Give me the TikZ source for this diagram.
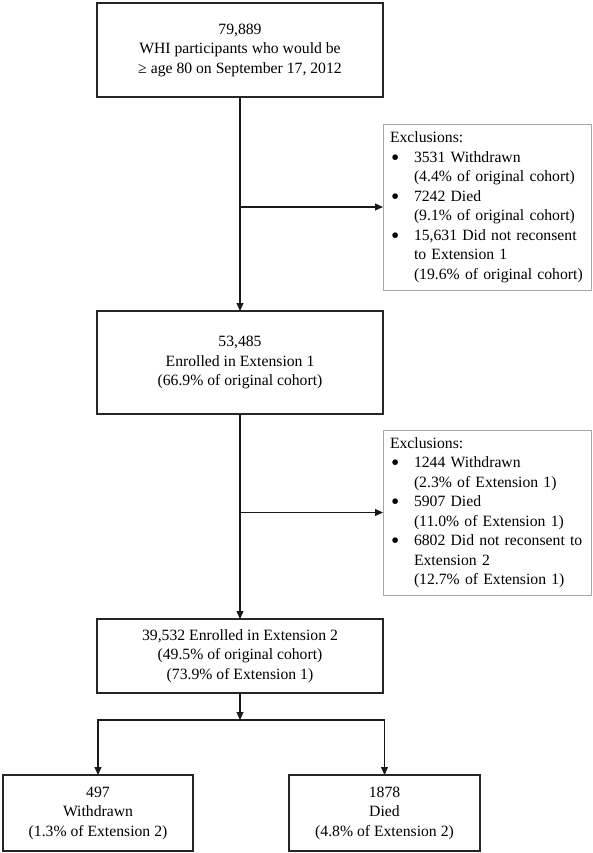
\documentclass[tikz,border=0pt]{standalone}
\usepackage{fontspec}
\setmainfont{Liberation Serif}
\usetikzlibrary{arrows.meta}
\newcommand{\bigdot}{\hspace{1pt}\raisebox{-3pt}{\scalebox{1.5}{\textbullet}}}
\begin{document}
\begin{tikzpicture}[x=1pt,y=-1pt,
  txt/.style={font=\fontsize{15.7}{19.5}\selectfont},
  mainbox/.style={txt, draw=black!85, line width=1.2pt, inner sep=0pt, outer sep=0pt,
    minimum width=286pt, align=center},
  botbox/.style={mainbox, minimum width=190pt, minimum height=76pt},
  exbox/.style={txt, draw=black!35, line width=0.9pt, inner xsep=7pt, inner ysep=0pt,
    outer sep=0pt, text width=194pt, align=left, minimum width=208pt},
  arr/.style={-{Triangle[length=8pt,width=7pt]}, line width=1.1pt, draw=black!90}]
\useasboundingbox (0,0) rectangle (592,853);

\node[mainbox, minimum height=94pt] (b1) at (240,50)
  {79,889\\WHI participants who would be\\≥ age 80 on September 17, 2012};
\node[mainbox, minimum height=103pt] (b2) at (240,362.5)
  {53,485\\Enrolled in Extension 1\\(66.9\% of original cohort)};
\node[mainbox, minimum height=74pt] (b3) at (240,656)
  {39,532 Enrolled in Extension 2\\(49.5\% of original cohort)\\(73.9\% of Extension 1)};
\node[botbox] (b4) at (98,813) {497\\Withdrawn\\(1.3\% of Extension 2)};
\node[botbox, minimum width=191pt] (b5) at (384.5,813) {1878\\Died\\(4.8\% of Extension 2)};

\node[exbox, minimum height=166pt] (ex1) at (487,207)
  {\begin{tabular}{@{}p{24pt}@{}l@{}}
   \multicolumn{2}{@{}l@{}}{Exclusions:}\\
   \bigdot & 3531 Withdrawn\\
   & (4.4\% of original cohort)\\
   \bigdot & 7242 Died\\
   & (9.1\% of original cohort)\\
   \bigdot & 15,631 Did not reconsent\\
   & to Extension 1\\
   & (19.6\% of original cohort)
   \end{tabular}};
\node[exbox, minimum height=165pt] (ex2) at (487,512.5)
  {\begin{tabular}{@{}p{24pt}@{}l@{}}
   \multicolumn{2}{@{}l@{}}{Exclusions:}\\
   \bigdot & 1244 Withdrawn\\
   & (2.3\% of Extension 1)\\
   \bigdot & 5907 Died\\
   & (11.0\% of Extension 1)\\
   \bigdot & 6802 Did not reconsent to\\
   & Extension 2\\
   & (12.7\% of Extension 1)
   \end{tabular}};

\coordinate (j1) at (240,207);
\coordinate (j2) at (240,512.5);
\coordinate (j3) at (240,720);

\draw[arr] (b1) -- (b2);
\draw[arr] (j1) -- (ex1.west);
\draw[arr] (b2) -- (b3);
\draw[arr] (j2) -- (ex2.west);
\draw[arr] (b3) -- (j3);
\draw[arr] (j3) -| (b4.north);
\draw[arr] (j3) -| (b5.north);
\end{tikzpicture}
\end{document}
